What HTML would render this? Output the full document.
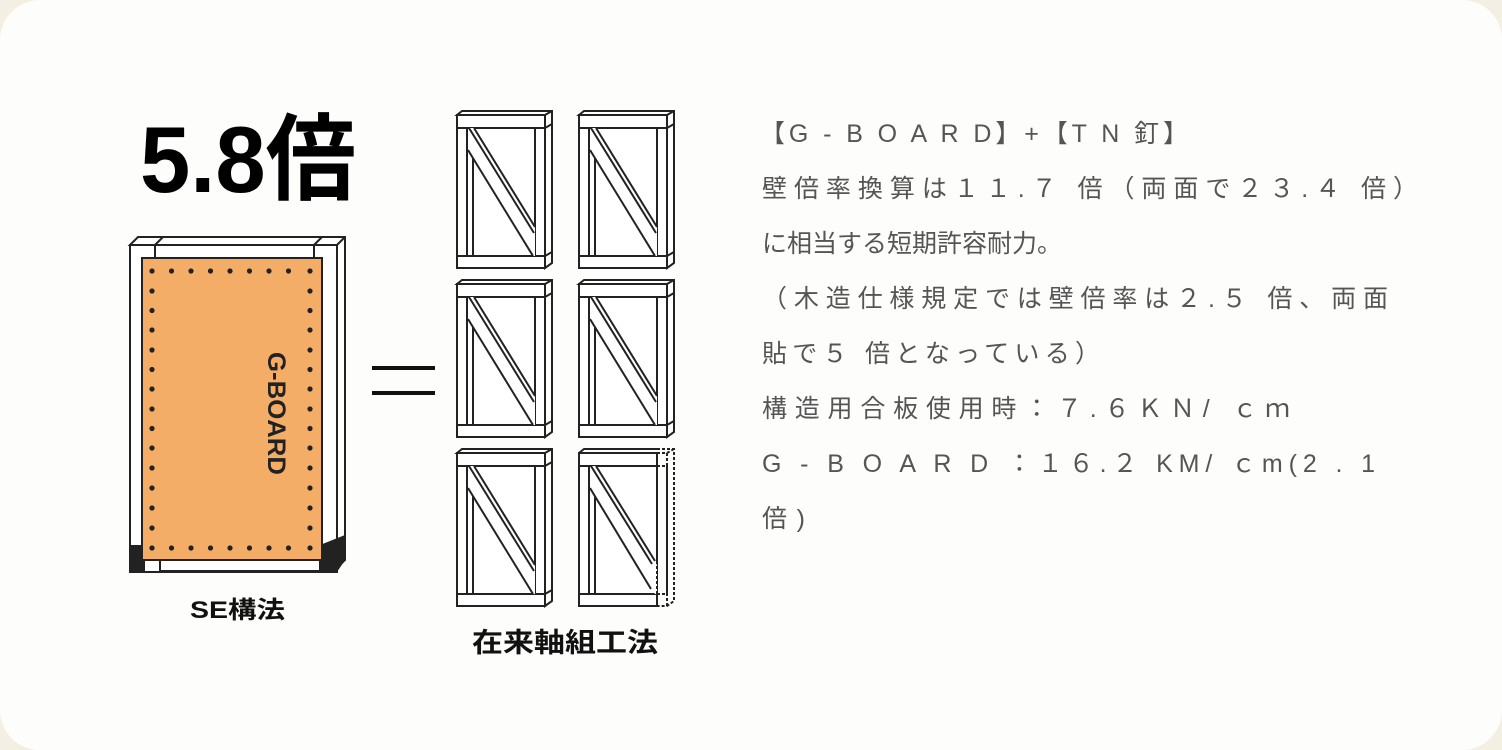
<!DOCTYPE html>
<html><head><meta charset="utf-8"><style>
html,body{margin:0;padding:0;background:#f3efe3;}
svg{display:block}
</style></head><body>
<svg width="1502" height="750" viewBox="0 0 1502 750" xmlns="http://www.w3.org/2000/svg">
<rect x="0" y="0" width="1502" height="750" rx="40" fill="#fdfdfb"/>
<defs>
<g id="fr" fill="#fff" stroke="#222" stroke-width="2">
  <path d="M0,4 L5,0 L95,0 L95,152 L88,157 L88,4 Z"/>
  <rect x="0" y="4" width="88" height="153"/>
  <path d="M88,4 L95,0" fill="none"/>
  <rect x="0" y="4" width="88" height="13"/>
  <rect x="0" y="145" width="88" height="12"/>
  <rect x="0" y="17" width="10" height="128"/>
  <line x1="16" y1="17" x2="16" y2="145"/>
  <rect x="78" y="17" width="10" height="128"/>
  <line x1="88" y1="17" x2="95" y2="13"/>
  <line x1="88" y1="145" x2="95" y2="141"/>
  <polygon points="12,17 18,17 78,116 78,145 76,145 11,39" fill="#fff" stroke="none"/>
  <line x1="12" y1="17" x2="77" y2="122"/>
  <line x1="17" y1="17" x2="78" y2="116"/>
  <line x1="11" y1="39" x2="76" y2="145"/>
  <line x1="16" y1="50" x2="16" y2="145"/>
</g>
<g id="fr2" fill="#fff" stroke="#222" stroke-width="2">
  <rect x="0" y="4" width="78" height="153"/>
  <path d="M0,4 L5,0 L78,0" fill="none"/>
  <rect x="0" y="4" width="78" height="13"/>
  <rect x="0" y="145" width="78" height="12"/>
  <rect x="0" y="17" width="10" height="128"/>
  <line x1="16" y1="17" x2="16" y2="145"/>
  <polygon points="12,17 18,17 78,116 78,145 76,145 11,39" fill="#fff" stroke="none"/>
  <line x1="12" y1="17" x2="73" y2="115"/>
  <line x1="17" y1="17" x2="76" y2="112"/>
  <line x1="11" y1="39" x2="72" y2="140"/>
  <line x1="16" y1="50" x2="16" y2="145"/>
  <g stroke-dasharray="3,2" fill="none">
    <path d="M78,0 L95,0 L95,152 L88,157 L78,157"/>
    <path d="M78,4 L88,4 L95,0"/>
    <path d="M78,17 L88,17 L88,145 L78,145"/>
    <line x1="78" y1="17" x2="78" y2="145"/>
    <line x1="88" y1="4" x2="88" y2="157"/>
  </g>
</g>
</defs>

<!-- SE frame -->
<g stroke="#222" stroke-width="2" fill="#fff">
  <path d="M130,245 L138,237 L345,237 L345,560 L337,568 L337,245 Z"/>
  <rect x="130" y="245" width="207" height="327"/>
  <path d="M130,245 L337,245 L345,237" fill="none"/>
  <line x1="155" y1="245" x2="163" y2="237"/>
  <line x1="314" y1="245" x2="322" y2="237"/>
  <line x1="155" y1="245" x2="155" y2="258"/>
  <line x1="314" y1="245" x2="314" y2="258"/>
</g>
<rect x="130" y="545" width="15" height="27" fill="#222"/>
<polygon points="320,545 345,535 345,560 337,572 320,572" fill="#222"/>
<rect x="160" y="560" width="160" height="11" fill="#fff" stroke="#222" stroke-width="2"/>
<rect x="142" y="258" width="180" height="302" fill="#f4ad67" stroke="#222" stroke-width="2"/>
<g fill="#222">
<circle cx="152" cy="271" r="2.6"/><circle cx="171.5" cy="271" r="2.6"/><circle cx="191" cy="271" r="2.6"/><circle cx="210.5" cy="271" r="2.6"/><circle cx="230" cy="271" r="2.6"/><circle cx="249.5" cy="271" r="2.6"/><circle cx="269" cy="271" r="2.6"/><circle cx="288.5" cy="271" r="2.6"/><circle cx="310" cy="271" r="2.6"/>
<circle cx="152" cy="548" r="2.6"/><circle cx="171.5" cy="548" r="2.6"/><circle cx="191" cy="548" r="2.6"/><circle cx="210.5" cy="548" r="2.6"/><circle cx="230" cy="548" r="2.6"/><circle cx="249.5" cy="548" r="2.6"/><circle cx="269" cy="548" r="2.6"/><circle cx="288.5" cy="548" r="2.6"/><circle cx="310" cy="548" r="2.6"/>
<circle cx="152" cy="291" r="2.6"/><circle cx="152" cy="310.5" r="2.6"/><circle cx="152" cy="330" r="2.6"/><circle cx="152" cy="350" r="2.6"/><circle cx="152" cy="369.5" r="2.6"/><circle cx="152" cy="389" r="2.6"/><circle cx="152" cy="409" r="2.6"/><circle cx="152" cy="428.5" r="2.6"/><circle cx="152" cy="448" r="2.6"/><circle cx="152" cy="468" r="2.6"/><circle cx="152" cy="488" r="2.6"/><circle cx="152" cy="508" r="2.6"/><circle cx="152" cy="528" r="2.6"/>
<circle cx="310" cy="291" r="2.6"/><circle cx="310" cy="310.5" r="2.6"/><circle cx="310" cy="330" r="2.6"/><circle cx="310" cy="350" r="2.6"/><circle cx="310" cy="369.5" r="2.6"/><circle cx="310" cy="389" r="2.6"/><circle cx="310" cy="409" r="2.6"/><circle cx="310" cy="428.5" r="2.6"/><circle cx="310" cy="448" r="2.6"/><circle cx="310" cy="468" r="2.6"/><circle cx="310" cy="488" r="2.6"/><circle cx="310" cy="508" r="2.6"/><circle cx="310" cy="528" r="2.6"/>
</g>
<text transform="translate(268,352) rotate(90)" font-family="Liberation Sans, sans-serif" font-weight="bold" font-size="25" fill="#222" textLength="123" lengthAdjust="spacingAndGlyphs">G-BOARD</text>

<text x="140" y="192" font-family="'Liberation Sans','Noto Sans CJK JP',sans-serif" font-weight="bold" font-size="94" fill="#000" textLength="216" lengthAdjust="spacingAndGlyphs">5.8倍</text>
<text x="190" y="618" font-family="'Liberation Sans','Noto Sans CJK JP',sans-serif" font-weight="bold" font-size="24" fill="#111" textLength="95" lengthAdjust="spacingAndGlyphs">SE構法</text>

<rect x="372" y="366" width="63" height="4" fill="#111"/>
<rect x="372" y="391" width="63" height="4" fill="#111"/>

<use href="#fr" x="457" y="111"/>
<use href="#fr" x="579" y="111"/>
<use href="#fr" x="457" y="280"/>
<use href="#fr" x="579" y="280"/>
<use href="#fr" x="457" y="449"/>
<use href="#fr2" x="579" y="449"/>
<text x="472" y="652" font-family="'Liberation Sans','Noto Sans CJK JP',sans-serif" font-weight="bold" font-size="27" fill="#111" textLength="186" lengthAdjust="spacingAndGlyphs">在来軸組工法</text>

<g font-family="'Liberation Sans','Noto Sans CJK JP',sans-serif" font-size="25" fill="#555" lengthAdjust="spacingAndGlyphs">
<text x="760" y="142" textLength="428">【G - B O A R D】+【T N  釘】</text>
<text x="762" y="197" textLength="656">壁倍率換算は１１.７ 倍（両面で２３.４ 倍）</text>
<text x="762" y="252">に相当する短期許容耐力。</text>
<text x="762" y="307" textLength="626">（木造仕様規定では壁倍率は２.５ 倍、両面</text>
<text x="762" y="362" textLength="338">貼で５ 倍となっている）</text>
<text x="762" y="417" textLength="528">構造用合板使用時：７.６ＫＮ/ ｃｍ</text>
<text x="762" y="472" textLength="613">G - B O A R D ：１６.２ KM/ ｃm(2 . 1</text>
<text x="762" y="527" textLength="43">倍)</text>
</g>
</svg>
</body></html>
